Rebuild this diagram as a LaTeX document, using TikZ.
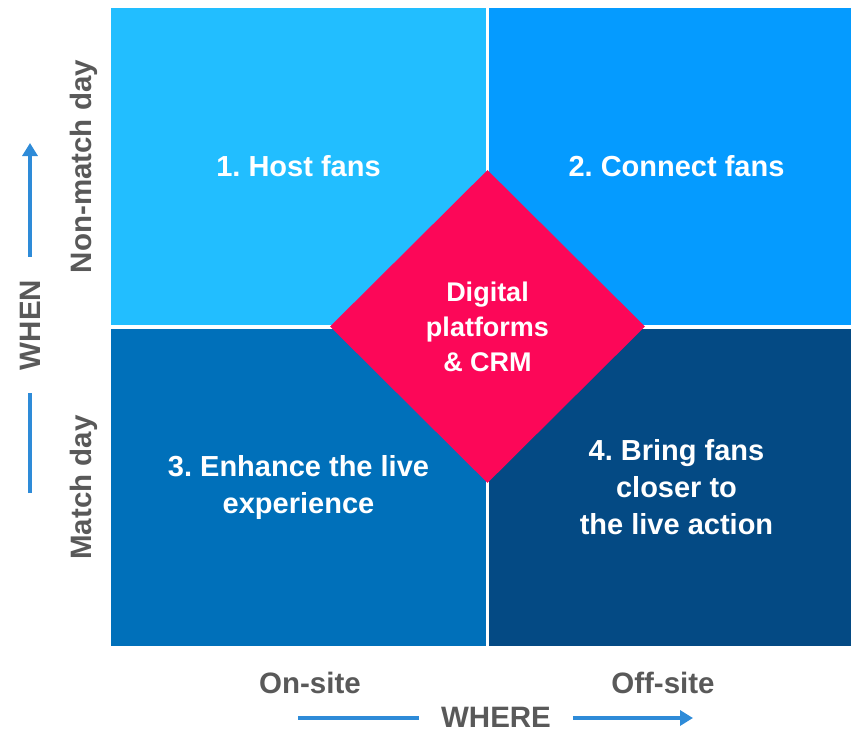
\documentclass[tikz,border=0pt]{standalone}
\usepackage{fontspec}
\setmainfont{Liberation Sans}
\usetikzlibrary{shapes.geometric,arrows.meta,positioning}
\definecolor{fanHost}{HTML}{22BEFF}
\definecolor{fanConnect}{HTML}{059BFF}
\definecolor{fanEnhance}{HTML}{0070BA}
\definecolor{fanBring}{HTML}{044A84}
\definecolor{fanHub}{HTML}{FC0758}
\definecolor{axisBlue}{HTML}{2E8BD8}
\definecolor{axisGray}{HTML}{595959}
\frenchspacing

\begin{document}
\begin{tikzpicture}[
    x=1pt, y=-1pt,
    quad/.style={minimum width=375pt, minimum height=317pt, inner sep=0pt, text=white, align=center, font=\fontsize{29}{37}\selectfont\bfseries},
    hub/.style={diamond, fill=fanHub, minimum width=315pt, minimum height=313pt, inner sep=0pt, text=white, align=center, font=\fontsize{27}{35}\selectfont\bfseries},
    axislabel/.style={text=axisGray, inner sep=0pt, font=\fontsize{29.5}{35}\selectfont\bfseries},
    axisline/.style={draw=axisBlue, line width=3.5pt},
    axisarrow/.style={axisline, -{Triangle[length=13pt,width=15pt]}}
]
\clip (0,0) rectangle (851,732);

% ===== QUADRANTS =====
\node[quad, fill=fanHost] (host) at (298.5,166.5) {1. Host fans};
\node[quad, fill=fanConnect] (connect) at (676.5,166.5) {2. Connect fans};
\node[quad, fill=fanEnhance] (enhance) at (298.5,487.5) {3. Enhance the live\\experience};
\node[quad, fill=fanBring] (bring) at (676.5,487.5) {4. Bring fans\\closer to\\the live action};

% ===== CENTRE =====
\node[hub] (crm) at (487.5,326.5) {Digital\\platforms\\\& CRM};

% ===== WHEN AXIS =====
\node[axislabel, rotate=90, anchor=south] (nonmatch) at ([xshift=-13pt]host.west) {Non-match day};
\node[axislabel, rotate=90, anchor=south] (matchday) at ([xshift=-13pt]enhance.west) {Match day};
\node[axislabel, rotate=90, outer xsep=23pt] (when) at (30,325) {WHEN};
\coordinate (whenLow) at (30,493);
\coordinate (whenHigh) at (30,143);
\draw[axisline] (whenLow) -- (when);
\draw[axisarrow] (when) -- (whenHigh);

% ===== WHERE AXIS =====
\node[axislabel] (onsite) at (310,683) {On-site};
\node[axislabel] (offsite) at (663,683) {Off-site};
\node[axislabel, outer xsep=22pt] (where) at (496,717) {WHERE};
\coordinate (whereLow) at (298,718);
\coordinate (whereHigh) at (693,718);
\draw[axisline] (whereLow) -- (where.west |- whereLow);
\draw[axisarrow] (where.east |- whereHigh) -- (whereHigh);

\end{tikzpicture}
\end{document}
